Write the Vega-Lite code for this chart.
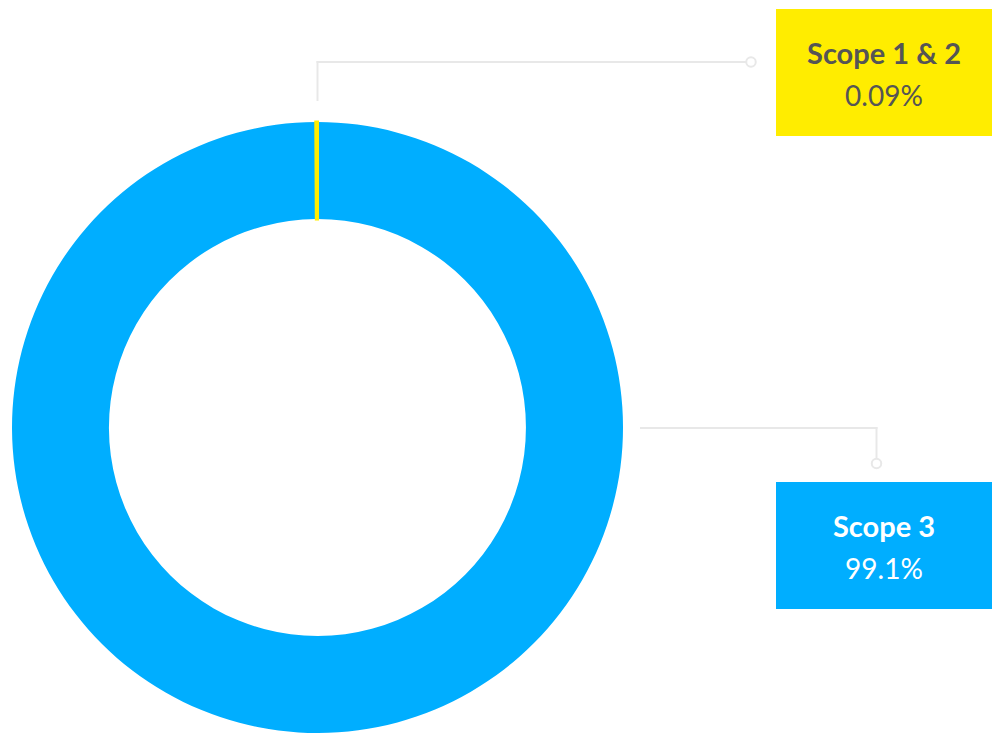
{
  "$schema": "https://vega.github.io/schema/vega-lite/v6.json",
  "width": 994,
  "height": 733,
  "autosize": {"type": "fit", "contains": "padding"},
  "padding": 0,
  "background": "white",
  "config": {"view": {"stroke": null}},
  "data": {
    "values": [
      {"scope": "Scope 1 & 2", "share": 0.09, "label": "0.09%"},
      {"scope": "Scope 3", "share": 99.1, "label": "99.1%"}
    ]
  },
  "layer": [
    {
      "mark": {"type": "arc", "x": 317.5, "y": 427.5, "outerRadius": 305.5, "innerRadius": 208.5},
      "encoding": {
        "theta": {"field": "share", "type": "quantitative", "stack": true},
        "order": {"field": "share", "type": "quantitative", "sort": "descending"},
        "color": {
          "field": "scope",
          "type": "nominal",
          "scale": {"domain": ["Scope 1 & 2", "Scope 3"], "range": ["#FFED00", "#00AEFF"]},
          "legend": null
        }
      }
    },
    {
      "mark": {"type": "arc", "x": 317.5, "y": 427.5, "outerRadius": 305.5, "innerRadius": 208.5, "stroke": "#FFED00", "strokeWidth": 3, "fill": "#FFED00"},
      "encoding": {
        "theta": {"field": "share", "type": "quantitative", "stack": true},
        "order": {"field": "share", "type": "quantitative", "sort": "descending"},
        "opacity": {"condition": {"test": "datum.scope === 'Scope 1 & 2'", "value": 1}, "value": 0}
      }
    },
    {
      "transform": [{"filter": "datum.scope === 'Scope 1 & 2'"}],
      "mark": {"type": "rule", "stroke": "#E8E8E8", "strokeWidth": 2},
      "encoding": {"x": {"value": 317.5}, "y": {"value": 61}, "y2": {"value": 101}}
    },
    {
      "transform": [{"filter": "datum.scope === 'Scope 1 & 2'"}],
      "mark": {"type": "rule", "stroke": "#E8E8E8", "strokeWidth": 2},
      "encoding": {"x": {"value": 316.5}, "x2": {"value": 746}, "y": {"value": 62}}
    },
    {
      "transform": [{"filter": "datum.scope === 'Scope 1 & 2'"}],
      "mark": {"type": "point", "shape": "circle", "size": 90, "filled": true, "fill": "white", "stroke": "#E8E8E8", "strokeWidth": 2, "opacity": 1},
      "encoding": {"x": {"value": 751}, "y": {"value": 62}}
    },
    {
      "transform": [{"filter": "datum.scope === 'Scope 3'"}],
      "mark": {"type": "rule", "stroke": "#E8E8E8", "strokeWidth": 2},
      "encoding": {"x": {"value": 640}, "x2": {"value": 877.5}, "y": {"value": 428}}
    },
    {
      "transform": [{"filter": "datum.scope === 'Scope 3'"}],
      "mark": {"type": "rule", "stroke": "#E8E8E8", "strokeWidth": 2},
      "encoding": {"x": {"value": 876.5}, "y": {"value": 427}, "y2": {"value": 459}}
    },
    {
      "transform": [{"filter": "datum.scope === 'Scope 3'"}],
      "mark": {"type": "point", "shape": "circle", "size": 90, "filled": true, "fill": "white", "stroke": "#E8E8E8", "strokeWidth": 2, "opacity": 1},
      "encoding": {"x": {"value": 876.5}, "y": {"value": 463.5}}
    },
    {
      "mark": {"type": "rect", "x": 776, "x2": 992, "height": 127},
      "encoding": {
        "y": {
          "field": "scope",
          "type": "nominal",
          "scale": {"type": "point", "domain": ["Scope 1 & 2", "Scope 3"], "range": [72.5, 545.5], "padding": 0},
          "axis": null
        },
        "color": {"field": "scope", "type": "nominal", "legend": null}
      }
    },
    {
      "mark": {"type": "text", "x": 884, "align": "center", "baseline": "alphabetic", "dy": -9, "font": "Lato", "fontSize": 29, "fontWeight": "bold"},
      "encoding": {
        "y": {"field": "scope", "type": "nominal"},
        "text": {"field": "scope"},
        "color": {"condition": {"test": "datum.scope === 'Scope 3'", "value": "#FFFFFF"}, "value": "#555555"}
      }
    },
    {
      "mark": {"type": "text", "x": 884, "align": "center", "baseline": "alphabetic", "dy": 33, "font": "Lato", "fontSize": 28, "fontWeight": "normal"},
      "encoding": {
        "y": {"field": "scope", "type": "nominal"},
        "text": {"field": "label"},
        "color": {"condition": {"test": "datum.scope === 'Scope 3'", "value": "#FFFFFF"}, "value": "#555555"}
      }
    }
  ]
}
